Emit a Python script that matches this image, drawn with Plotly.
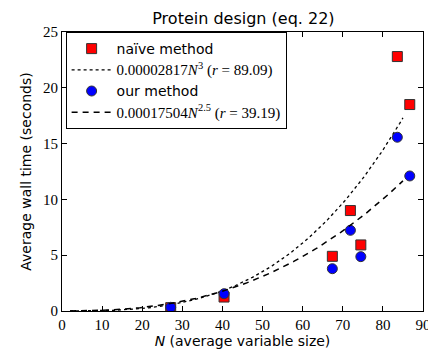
import numpy as np
import plotly.graph_objects as go

# measured points (N, seconds)
n_vals = [27.1, 40.4, 67.4, 71.9, 74.5, 83.6, 86.7]
naive_times = [0.30, 1.25, 4.90, 9.00, 5.92, 22.80, 18.50]
ours_times = [0.33, 1.55, 3.79, 7.23, 4.87, 15.57, 12.10]

# fitted power laws from the legend
naive_coef, naive_exp = 0.00002817, 3
ours_coef, ours_exp = 0.00017504, 2.5
fit_n = np.linspace(2, 85, 200)

SERIF = "Liberation Serif"
SANS = "DejaVu Sans"
MATH = '<span style="font-family:Liberation Serif;font-size:15px">{}</span>'

fig = go.Figure()

fig.add_trace(go.Scatter(
    x=n_vals, y=naive_times, mode="markers", name="naïve method",
    marker=dict(symbol="square", size=10, color="#ff0000",
                line=dict(color="#333333", width=1)),
))
fig.add_trace(go.Scatter(
    x=fit_n, y=naive_coef * fit_n ** naive_exp, mode="lines",
    name=MATH.format("0.00002817<i>N</i><sup>3</sup> (<i>r</i> = 89.09)"),
    line=dict(color="black", width=1.3, dash="dot"),
))
fig.add_trace(go.Scatter(
    x=n_vals, y=ours_times, mode="markers", name="our method",
    marker=dict(symbol="circle", size=10, color="#0000ff",
                line=dict(color="#333333", width=1)),
))
fig.add_trace(go.Scatter(
    x=fit_n, y=ours_coef * fit_n ** ours_exp, mode="lines",
    name=MATH.format("0.00017504<i>N</i><sup>2.5</sup> (<i>r</i> = 39.19)"),
    line=dict(color="black", width=1.5, dash="6px,5px"),
))

axis_style = dict(
    showline=True, linecolor="black", linewidth=1.2, mirror="ticks",
    ticks="inside", ticklen=5, tickcolor="black", showgrid=False,
    zeroline=False,
    tickfont=dict(family=SERIF, size=15, color="black"),
)

fig.update_layout(
    width=436, height=349,
    font=dict(family=SERIF, size=15, color="black"),
    margin=dict(l=54, r=21, t=24, b=39),
    paper_bgcolor="white", plot_bgcolor="white",
    xaxis=dict(range=[0, 90], dtick=10,
               title=dict(text="<i>N</i> (average variable size)",
                          font=dict(family=SANS, size=14), standoff=2),
               **axis_style),
    yaxis=dict(range=[0, 25], dtick=5,
               title=dict(text="Average wall time (seconds)",
                          font=dict(family=SANS, size=14), standoff=8),
               **axis_style),
    title=dict(text="Protein design (eq. 22)", x=0.54, xanchor="center",
               y=0.985, yanchor="top",
               font=dict(family=SANS, size=16, color="black")),
    legend=dict(x=0.01, y=1.0, xanchor="left", yanchor="top",
                bgcolor="white", bordercolor="black", borderwidth=1,
                font=dict(family=SANS, size=14, color="black"),
                itemwidth=40, tracegroupgap=0),
    showlegend=True,
)

fig.write_html("out.html")
